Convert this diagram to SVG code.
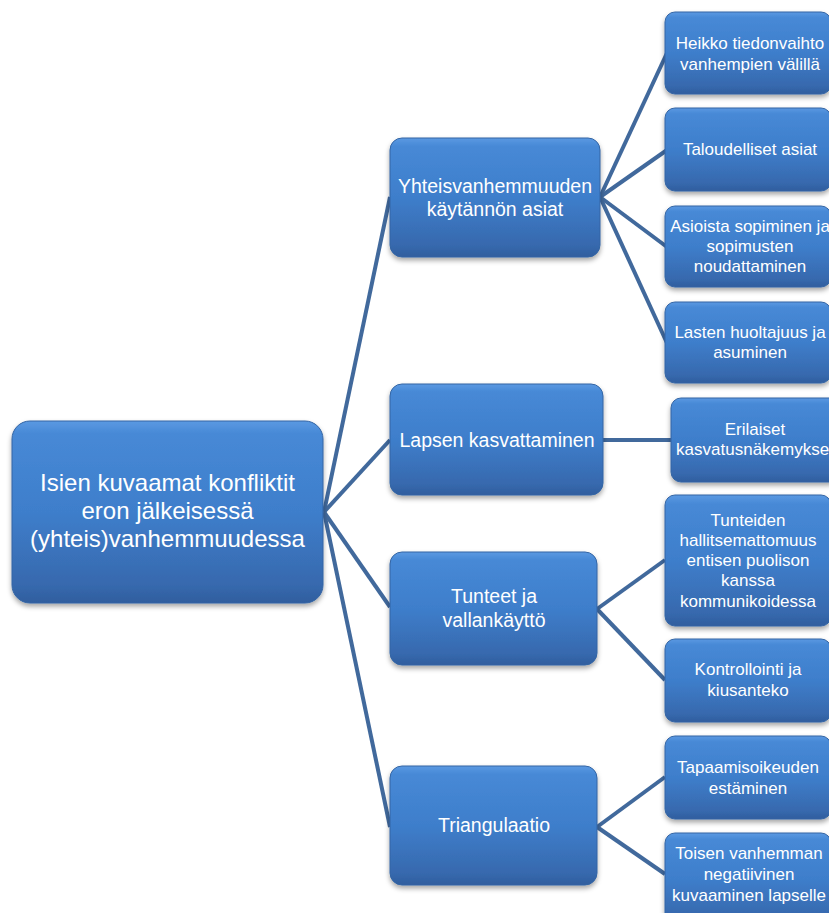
<svg xmlns="http://www.w3.org/2000/svg" width="829" height="913" viewBox="0 0 829 913">
<defs>
<linearGradient id="g" x1="0" y1="0" x2="0" y2="1">
<stop offset="0" stop-color="#5b99e2"/>
<stop offset="0.07" stop-color="#4789d6"/>
<stop offset="0.5" stop-color="#3e7ecb"/>
<stop offset="0.9" stop-color="#3769ae"/>
<stop offset="1" stop-color="#2f5e9e"/>
</linearGradient>
<filter id="sh" x="-10%" y="-10%" width="120%" height="130%">
<feDropShadow dx="0" dy="3" stdDeviation="2.5" flood-color="#000" flood-opacity="0.35"/>
</filter>
<style>
.box{fill:url(#g);stroke:#3465a4;stroke-width:1;filter:url(#sh)}
.c{stroke:#41699c;stroke-width:4;fill:none;stroke-linecap:butt}
text{fill:#fff;font-family:"Liberation Sans",Arial,sans-serif;text-anchor:middle}
.t0{font-size:24px}
.t1{font-size:19.5px}
.t2{font-size:17px}
</style>
</defs>
<g id="connectors">
<line class="c" x1="324" y1="512" x2="390" y2="197"/>
<line class="c" x1="324" y1="512" x2="390" y2="440"/>
<line class="c" x1="324" y1="512" x2="390" y2="607"/>
<line class="c" x1="324" y1="512" x2="390" y2="827"/>
<line class="c" x1="600" y1="197" x2="667" y2="53"/>
<line class="c" x1="600" y1="197" x2="667" y2="150"/>
<line class="c" x1="600" y1="197" x2="667" y2="247"/>
<line class="c" x1="600" y1="197" x2="667" y2="343"/>
<line class="c" x1="603" y1="440" x2="671" y2="440"/>
<line class="c" x1="597" y1="609" x2="665" y2="560"/>
<line class="c" x1="597" y1="609" x2="665" y2="680"/>
<line class="c" x1="597" y1="827" x2="665" y2="777"/>
<line class="c" x1="597" y1="827" x2="665" y2="874"/>
</g>
<g id="root">
<rect class="box" x="12" y="421" width="311" height="182" rx="18"/>
<text class="t0" x="167.5" y="491">Isien kuvaamat konfliktit</text>
<text class="t0" x="167.5" y="519">eron jälkeisessä</text>
<text class="t0" x="167.5" y="547">(yhteis)vanhemmuudessa</text>
</g>
<g id="n1">
<rect class="box" x="390" y="138" width="210" height="119" rx="12"/>
<text class="t1" x="495" y="193">Yhteisvanhemmuuden</text>
<text class="t1" x="495" y="216">käytännön asiat</text>
</g>
<g id="n2">
<rect class="box" x="390" y="384" width="213" height="111" rx="12"/>
<text class="t1" x="497" y="447">Lapsen kasvattaminen</text>
</g>
<g id="n3">
<rect class="box" x="390" y="552" width="207" height="113" rx="12"/>
<text class="t1" x="494" y="603">Tunteet ja</text>
<text class="t1" x="494" y="627">vallankäyttö</text>
</g>
<g id="n4">
<rect class="box" x="390" y="766" width="207" height="119" rx="12"/>
<text class="t1" x="494" y="832">Triangulaatio</text>
</g>
<g id="n1a">
<rect class="box" x="665" y="12" width="166" height="82" rx="10"/>
<text class="t2" x="750" y="49">Heikko tiedonvaihto</text>
<text class="t2" x="750" y="70">vanhempien välillä</text>
</g>
<g id="n1b">
<rect class="box" x="665" y="108" width="166" height="83" rx="10"/>
<text class="t2" x="750" y="155">Taloudelliset asiat</text>
</g>
<g id="n1c">
<rect class="box" x="665" y="206" width="166" height="81" rx="10"/>
<text class="t2" x="750" y="232">Asioista sopiminen ja</text>
<text class="t2" x="750" y="252">sopimusten</text>
<text class="t2" x="750" y="272">noudattaminen</text>
</g>
<g id="n1d">
<rect class="box" x="665" y="302" width="166" height="81" rx="10"/>
<text class="t2" x="750" y="338">Lasten huoltajuus ja</text>
<text class="t2" x="750" y="358">asuminen</text>
</g>
<g id="n2a">
<rect class="box" x="671" y="398" width="168" height="84" rx="10"/>
<text class="t2" x="755" y="435">Erilaiset</text>
<text class="t2" x="755" y="455">kasvatusnäkemykset</text>
</g>
<g id="n3a">
<rect class="box" x="665" y="495" width="166" height="131" rx="10"/>
<text class="t2" x="748" y="526">Tunteiden</text>
<text class="t2" x="748" y="546">hallitsemattomuus</text>
<text class="t2" x="748" y="566">entisen puolison</text>
<text class="t2" x="748" y="586">kanssa</text>
<text class="t2" x="748" y="607">kommunikoidessa</text>
</g>
<g id="n3b">
<rect class="box" x="665" y="639" width="166" height="83" rx="10"/>
<text class="t2" x="748" y="675">Kontrollointi ja</text>
<text class="t2" x="748" y="696">kiusanteko</text>
</g>
<g id="n4a">
<rect class="box" x="665" y="736" width="166" height="83" rx="10"/>
<text class="t2" x="748" y="773">Tapaamisoikeuden</text>
<text class="t2" x="748" y="794">estäminen</text>
</g>
<g id="n4b">
<rect class="box" x="665" y="833" width="166" height="92" rx="10"/>
<text class="t2" x="749" y="859">Toisen vanhemman</text>
<text class="t2" x="749" y="880">negatiivinen</text>
<text class="t2" x="749" y="901">kuvaaminen lapselle</text>
</g>
</svg>
